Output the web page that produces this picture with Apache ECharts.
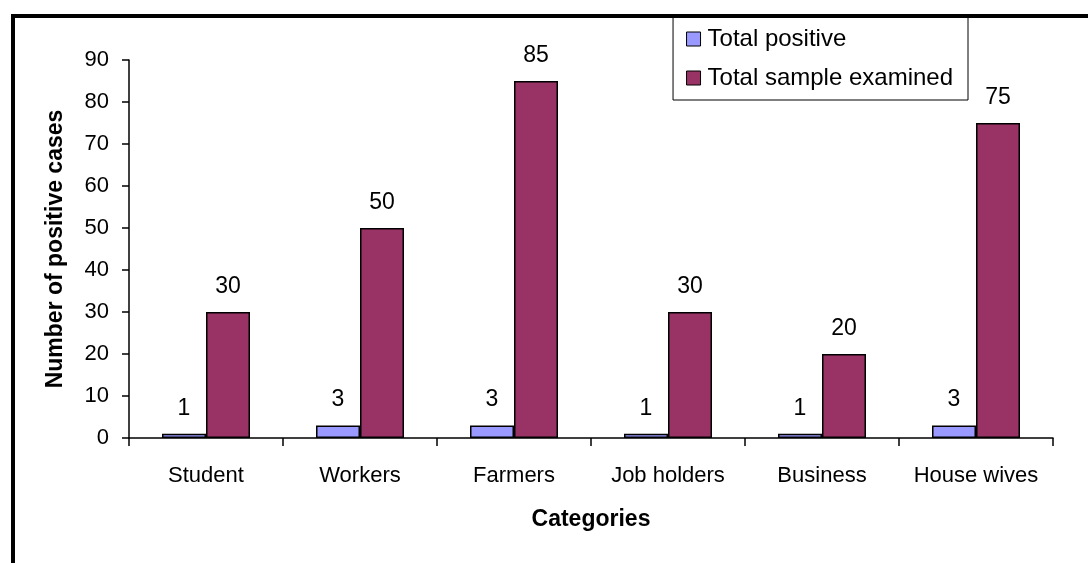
<!DOCTYPE html>
<html><head><meta charset="utf-8">
<script src="https://cdn.jsdelivr.net/npm/echarts@6/dist/echarts.min.js"></script>
<style>html,body{margin:0;padding:0;background:#fff}#c{width:1088px;height:563px}</style>
</head><body><div id="c"></div>
<script>
const categories = ['Student','Workers','Farmers','Job holders','Business','House wives'];
const totalPositive = [1,3,3,1,1,3];
const totalSample = [30,50,85,30,20,75];
const yTicks = [0,10,20,30,40,50,60,70,80,90];

const font = 'Liberation Sans, Arial, sans-serif';
const chart = echarts.init(document.getElementById('c'));
chart.setOption({
  animation:false,
  backgroundColor:'#fff',
  textStyle:{fontFamily:font},
  graphic:[
    {type:'line', shape:{x1:12, y1:16, x2:1088, y2:16}, style:{stroke:'#000', lineWidth:4}},
    {type:'line', shape:{x1:13, y1:14, x2:13, y2:563}, style:{stroke:'#000', lineWidth:4}}
  ],
  legend:{
    right:120, top:16, orient:'vertical', itemGap:15,
    padding:[11,15,10,13],
    borderColor:'#000', borderWidth:1, borderRadius:0,
    icon:'rect',
    itemWidth:14, itemHeight:14, itemStyle:{borderColor:'#000', borderWidth:1},
    textStyle:{fontSize:24, color:'#000', fontFamily:font, padding:[0,0,0,2]},
    data:['Total positive','Total sample examined']
  },
  grid:{left:129, right:35, top:60, bottom:125},
  xAxis:{
    type:'category', data:categories,
    name:'Categories', nameLocation:'middle', nameGap:70,
    nameTextStyle:{fontSize:23, fontWeight:'bold', color:'#000', fontFamily:font},
    axisLine:{lineStyle:{color:'#000', width:1.5}},
    axisTick:{show:true, length:8, alignWithLabel:false, lineStyle:{color:'#000', width:1.5}},
    axisLabel:{fontSize:22, color:'#000', margin:27, interval:0, fontFamily:font}
  },
  yAxis:{
    type:'value', min:0, max:90, interval:10,
    name:'Number of positive cases', nameLocation:'middle', nameGap:62,
    nameTextStyle:{fontSize:23, fontWeight:'bold', color:'#000', fontFamily:font},
    splitLine:{show:false},
    axisLine:{show:true, lineStyle:{color:'#000', width:1.5}},
    axisTick:{show:true, length:7, lineStyle:{color:'#000', width:1.5}},
    axisLabel:{fontSize:22, color:'#000', margin:20, fontFamily:font,
      formatter:v=>yTicks.includes(v)?String(v):''}
  },
  series:[
    {name:'Total positive', type:'bar', data:totalPositive, barWidth:44, barGap:'0%',
     itemStyle:{color:'#9999FF', borderColor:'#000', borderWidth:1.5},
     label:{show:true, position:'top', distance:14, fontSize:23, color:'#000', fontFamily:font}},
    {name:'Total sample examined', type:'bar', data:totalSample, barWidth:44,
     itemStyle:{color:'#993366', borderColor:'#000', borderWidth:1.5},
     label:{show:true, position:'top', distance:14, fontSize:23, color:'#000', fontFamily:font}}
  ]
});
</script></body></html>
